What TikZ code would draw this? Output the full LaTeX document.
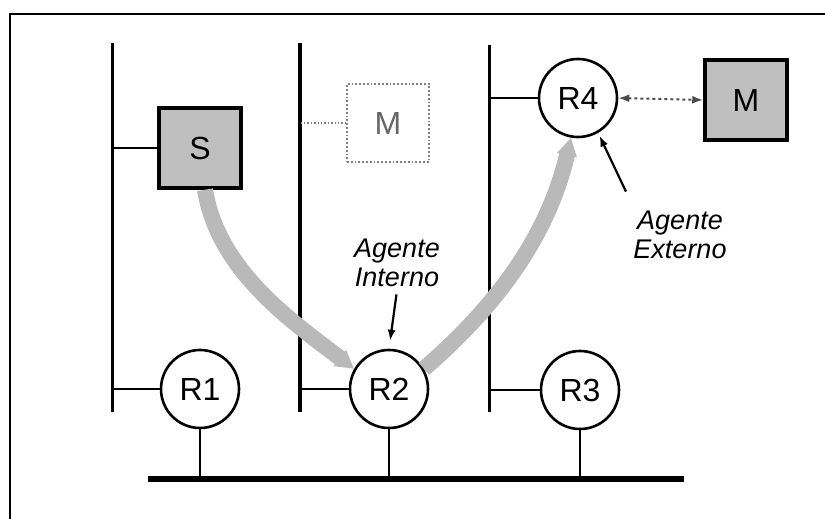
\documentclass[tikz,border=0pt]{standalone}
\usepackage{fontspec}
\setmainfont{Liberation Sans}
\usetikzlibrary{arrows.meta,positioning}
\tikzset{
	router/.style={draw, circle, line width=2.6pt, fill=white, minimum size=78pt, inner sep=0pt, font=\fontsize{32}{32}\selectfont},
	host/.style={draw, line width=3.5pt, fill=gray!50, minimum width=82pt, minimum height=80pt, inner sep=0pt, font=\fontsize{32}{32}\selectfont},
	ghost/.style={draw=gray, dotted, line width=1.8pt, minimum width=82pt, minimum height=78pt, inner sep=0pt, text=gray!80!black, font=\fontsize{32}{32}\selectfont},
	lan/.style={line width=3pt},
	link/.style={line width=1.4pt},
	bus/.style={line width=6pt},
	tunnel/.style={line width=16pt, gray!55, -{Triangle[length=18pt, width=0pt 1.2]}},
	agent/.style={align=center, font=\fontsize{27}{29}\selectfont\itshape},
	pointer/.style={-{Latex[length=11pt, width=8pt]}, line width=2.2pt},
	visit/.style={{Latex[length=11pt, width=8pt]}-{Latex[length=11pt, width=8pt]}, dashed, line width=2pt, gray!60!black}
}

\begin{document}
\begin{tikzpicture}[x=1pt, y=-1pt]
	\useasboundingbox (0,0) rectangle (825,519);
	\draw[line width=1.5pt] (10,519) -- (10,14) -- (825,14);
	% the three subnets
	\coordinate (n1top) at (112,43);
	\coordinate (n1bot) at (112,412);
	\coordinate (n2top) at (300,43);
	\coordinate (n2bot) at (300,412);
	\coordinate (n3top) at (489,45);
	\coordinate (n3bot) at (489,412);
	\draw[lan] (n1top) -- (n1bot);
	\draw[lan, line width=4.5pt] (n2top) -- (n2bot);
	\draw[lan] (n3top) -- (n3bot);
	\node[host] (s) at (200,148) {S};
	\node[ghost] (mint) at (388,123) {M};
	\node[router] (r4) at (578,98) {R4};
	\node[host] (mext) at (746,100) {M};
	\node[router] (r1) at (200,389) {R1};
	\node[router] (r2) at (389,389) {R2};
	\node[router] (r3) at (580,390) {R3};
	\node[agent] (intern) at (397,263) {Agente\\Interno};
	\node[agent] (extern) at (680,235) {Agente\\Externo};
	\coordinate (busl) at (148,479);
	\coordinate (busr) at (684,479);
	\draw[link] (s.west) -- (s.west -| n1top);
	\draw[link] (r1.west) -- (r1.west -| n1top);
	\draw[link] (r2.west) -- (r2.west -| n2top);
	\draw[link] (r3.west) -- (r3.west -| n3top);
	\draw[link] (r4.west) -- (r4.west -| n3top);
	\draw[link, dotted, gray, line width=1.8pt] (mint.west) -- (mint.west -| n2top);
	\draw[link] (r1.south) -- (r1.south |- busl);
	\draw[link] (r2.south) -- (r2.south |- busl);
	\draw[link] (r3.south) -- (r3.south |- busl);
	\draw[bus] (busl) -- (busr);
	\draw[visit] (r4.east) -- (mext.west);
	% tunnel S -> R2 -> R4
	\draw[tunnel] ([xshift=5pt]s.south) .. controls (218,270) and (290,320) .. (r2.150);
	\draw[tunnel] (r2.30) .. controls (480,320) and (545,250) .. (r4.-100);
	\draw[pointer, shorten <=4pt, shorten >=8pt] (intern.south) -- (r2.north);
	\draw[pointer, shorten >=3pt] ([shift={(-4,-16)}]extern.north west) -- (r4.-60);
\end{tikzpicture}
\end{document}
